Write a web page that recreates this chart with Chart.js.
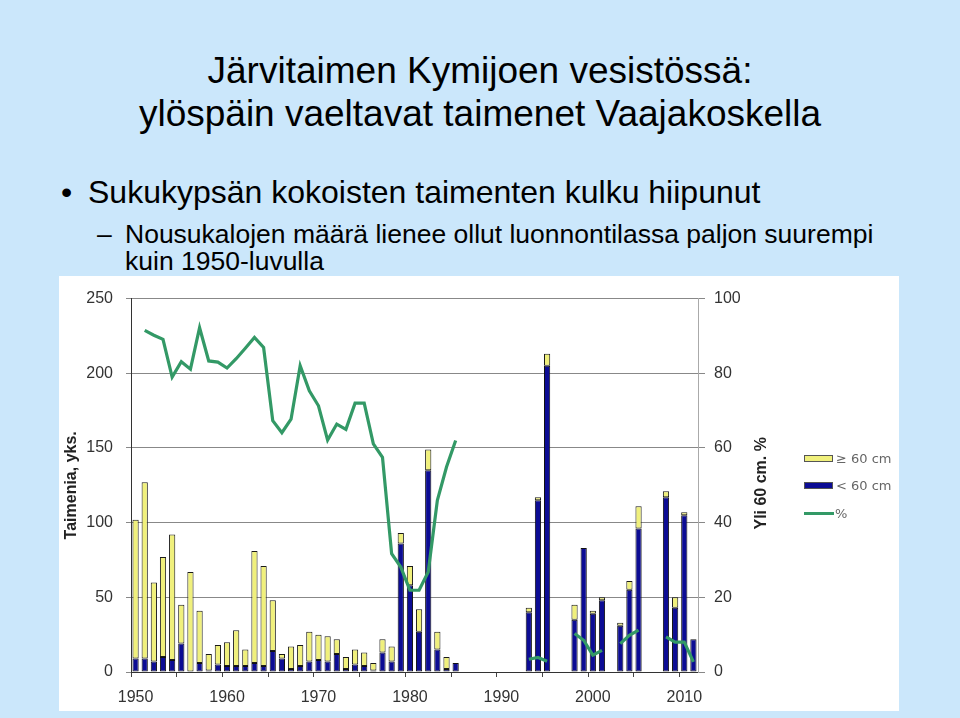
<!DOCTYPE html>
<html lang="fi">
<head>
<meta charset="utf-8">
<title>Järvitaimen Kymijoen vesistössä</title>
<script src="https://cdn.jsdelivr.net/npm/chart.js@4.4.1/dist/chart.umd.min.js"></script>
<style>
  html, body { margin: 0; padding: 0; }
  body {
    width: 960px; height: 718px; position: relative; overflow: hidden;
    background: #cbe7fb;
    font-family: "Liberation Sans", Arial, sans-serif; color: #000;
  }
  .t { position: absolute; white-space: nowrap; line-height: 1; }
  .title { left: 0; width: 960px; text-align: center; font-size: 37px; }
  .l1 { font-size: 32px; }
  .l2 { font-size: 26.5px; }
  #box { position: absolute; left: 59px; top: 276px; width: 840px; height: 435px; background: #fff; }
  #wrap { position: absolute; left: 0; top: 0; width: 840px; height: 435px; }
  .lg { position: absolute; font-family: "DejaVu Sans", sans-serif; font-size: 13px; color: #666; line-height: 1; white-space: nowrap; }
  .sw { position: absolute; width: 29px; height: 7px; box-sizing: border-box; border: 1px solid #555; }
</style>
</head>
<body>

<div class="t title" style="top:51.7px">Järvitaimen Kymijoen vesistössä:</div>
<div class="t title" style="top:94.7px">ylöspäin vaeltavat taimenet Vaajakoskella</div>

<div class="t l1" style="left:61px; top:176px">•</div>
<div class="t l1" style="left:88px; top:176px">Sukukypsän kokoisten taimenten kulku hiipunut</div>

<div class="t l2" style="left:97px; top:220.5px">–</div>
<div class="t l2" style="left:125px; top:220.5px">Nousukalojen määrä lienee ollut luonnontilassa paljon suurempi</div>
<div class="t l2" style="left:125px; top:247.5px">kuin 1950-luvulla</div>

<div id="box">
  <div id="wrap"><canvas id="chart"></canvas></div>
</div>

<!-- legend -->
<div class="sw" style="left:804px; top:455px; background:#f0f07c"></div>
<div class="lg" style="left:836px; top:452px">≥ 60 cm</div>
<div class="sw" style="left:804px; top:482px; background:#0c0c94"></div>
<div class="lg" style="left:836px; top:479px">&lt; 60 cm</div>
<div style="position:absolute; left:804px; top:512px; width:30px; height:3px; background:#339966"></div>
<div class="lg" style="left:835px; top:507px">%</div>

<script>
// ─── Data ──────────────────────────────────────────────────────────────────
const years = [
  1950, 1951, 1952, 1953, 1954, 1955, 1956, 1957, 1958, 1959,
  1960, 1961, 1962, 1963, 1964, 1965, 1966, 1967, 1968, 1969,
  1970, 1971, 1972, 1973, 1974, 1975, 1976, 1977, 1978, 1979,
  1980, 1981, 1982, 1983, 1984, 1985, 1986, 1987, 1988, 1989,
  1990, 1991, 1992, 1993, 1994, 1995, 1996, 1997, 1998, 1999,
  2000, 2001, 2002, 2003, 2004, 2005, 2006, 2007, 2008, 2009,
  2010, 2011
];

// < 60 cm (blue)
const under60 = [
  9, 9, 7, 10, 8, 19, 0, 6, 1, 5,
  4, 4, 4, 6, 4, 14, 9, 2, 4, 7,
  8, 7, 12, 2, 5, 4, 1, 13, 7, 86,
  58, 27, 135, 15, 2, 6, null, null, null, null,
  null, null, null, 40, 115, 205, null, null, 35, 83,
  39, 48, null, 31, 55, 96, null, null, 117, 43,
  105, 22
];

// ≥ 60 cm (yellow)
const over60 = [
  93, 118, 53, 67, 84, 26, 67, 35, 11, 13,
  16, 24, 11, 75, 67, 34, 3, 15, 14, 20,
  17, 17, 10, 8, 10, 9, 5, 9, 10, 7,
  13, 15, 14, 12, 8, 0, null, null, null, null,
  null, null, null, 3, 2, 8, null, null, 10, 0,
  2, 2, null, 2, 6, 15, null, null, 4, 7,
  2, 0
];

// share over 60 cm, %
const pctOver60 = [
  null, 91.5, 90.2, 89.1, 79.0, 83.1, 81.1, 92.2, 83.3, 83.0,
  81.4, 83.9, 86.7, 89.6, 86.9, 67.3, 64.1, 67.7, 82.0, 75.3,
  71.3, 62.1, 66.4, 65.0, 72.0, 72.0, 61.1, 57.5, 31.7, 28.1,
  21.9, 21.9, 26.8, 46.0, 54.9, 62.0, null, null, null, null,
  null, null, null, 3.4, 3.9, 2.9, null, null, 10.3, 8.5,
  4.5, 5.8, null, 7.6, 9.8, 11.2, null, null, 9.4, 8.0,
  8.0, 2.7
];

const leftTicks  = [0, 50, 100, 150, 200, 250];
const rightTicks = [0, 20, 40, 60, 80, 100];

// ─── Chart ─────────────────────────────────────────────────────────────────
const FONT = '"Liberation Sans", Arial, sans-serif';
Chart.defaults.font.family = FONT;
Chart.defaults.color = "#333";

// right axis title reads bottom-to-top, Chart.js would rotate it the other way
const rightTitle = {
  id: "rightTitle",
  afterDraw(chart) {
    const { ctx, chartArea } = chart;
    const sc = chart.scales.y1;
    ctx.save();
    ctx.translate(sc.left + 64, (chartArea.top + chartArea.bottom) / 2 - 2);
    ctx.rotate(-Math.PI / 2);
    ctx.font = "bold 16px " + FONT;
    ctx.fillStyle = "#222";
    ctx.textAlign = "center";
    ctx.textBaseline = "middle";
    ctx.fillText("Yli 60 cm. %", 0, 0);
    ctx.restore();
  }
};

new Chart(document.getElementById("chart"), {
  type: "bar",
  data: {
    labels: years,
    datasets: [
      {
        type: "line",
        label: "%",
        data: pctOver60,
        yAxisID: "y1",
        borderColor: "#339966",
        borderWidth: 3.2,
        pointRadius: 0,
        tension: 0,
        spanGaps: false,
        order: 0,
      },
      {
        label: "< 60 cm",
        data: under60,
        yAxisID: "y",
        backgroundColor: "#0c0c94",
        borderColor: "#111",
        borderWidth: 1,
        borderSkipped: false,
        order: 1,
      },
      {
        label: "≥ 60 cm",
        data: over60,
        yAxisID: "y",
        backgroundColor: "#f0f07c",
        borderColor: "#1a1a1a",
        borderWidth: 1,
        borderSkipped: false,
        order: 1,
      },
    ],
  },
  options: {
    responsive: true,
    maintainAspectRatio: false,
    animation: false,
    barPercentage: 0.68,
    categoryPercentage: 1,
    layout: { padding: { top: 21, left: 0, right: 0, bottom: 0 } },
    plugins: {
      legend: { display: false },
      tooltip: { enabled: false },
    },
    scales: {
      x: {
        stacked: true,
        afterFit: (s) => { s.height = 39; },
        border: { color: "#333", width: 1 },
        grid: {
          drawOnChartArea: false,
          drawTicks: true,
          tickLength: 5,
          offset: true,
          color: (c) => (c.index % 5 === 0 ? "#444" : "rgba(0,0,0,0)"),
        },
        ticks: {
          autoSkip: false,
          maxRotation: 0,
          padding: 11,
          font: { size: 16 },
          color: "#333",
          callback: function (v, i) {
            const yr = years[i];
            return yr % 10 === 0 ? String(yr) : "";
          },
        },
      },
      y: {
        stacked: true,
        position: "left",
        min: 0,
        max: 250,
        afterFit: (s) => { s.width = 72; },
        afterBuildTicks: (s) => { s.ticks = leftTicks.map((v) => ({ value: v })); },
        border: { color: "#333", width: 1 },
        grid: { color: "#888", lineWidth: 1, tickLength: 5 },
        ticks: { padding: 13, font: { size: 16 }, color: "#333" },
        title: {
          display: true,
          text: "Taimenia, yks.",
          font: { size: 16, weight: "bold" },
          color: "#222",
          padding: { top: 3, bottom: 0 },
        },
      },
      y1: {
        position: "right",
        min: 0,
        max: 100,
        afterFit: (s) => { s.width = 201; },
        afterBuildTicks: (s) => { s.ticks = rightTicks.map((v) => ({ value: v })); },
        border: { color: "#aaa", width: 1 },
        grid: { drawOnChartArea: false, color: "#888", tickLength: 7 },
        ticks: { padding: 9, font: { size: 16 }, color: "#333" },
      },
    },
  },
  plugins: [rightTitle],
});
</script>
</body>
</html>
